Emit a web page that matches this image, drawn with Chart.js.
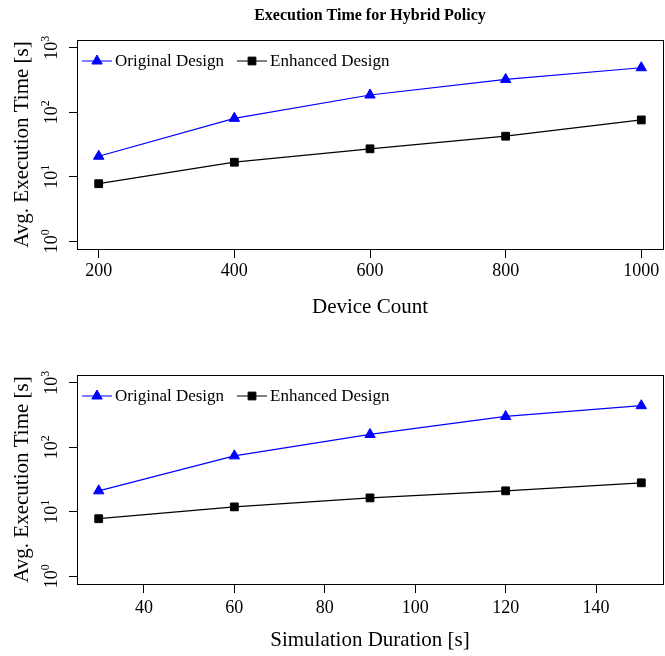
<!DOCTYPE html>
<html>
<head>
<meta charset="utf-8">
<script src="https://cdn.jsdelivr.net/npm/chart.js@4.4.0/dist/chart.umd.min.js"></script>
<style>
  html, body { margin: 0; padding: 0; background: #fff; }
  #wrap { position: relative; width: 665px; height: 656px; }
  canvas { position: absolute; left: 0; }
</style>
</head>
<body>
<div id="wrap">
  <canvas id="device-chart" width="665" height="328" style="top:0"></canvas>
  <canvas id="duration-chart" width="665" height="328" style="top:328px"></canvas>
</div>
<script>
const chartTitle = "Execution Time for Hybrid Policy";
const seriesNames = ["Original Design", "Enhanced Design"];
const yTitle = "Avg. Execution Time [s]";

const deviceCounts = [200, 400, 600, 800, 1000];
const deviceOriginal = [20.8, 80.5, 185, 323, 490];
const deviceEnhanced = [7.8, 16.8, 27.1, 42.5, 76];
const deviceTicks = [200, 400, 600, 800, 1000];

const durations = [30, 60, 90, 120, 150];
const durationOriginal = [21.1, 73.5, 158, 300, 441];
const durationEnhanced = [7.8, 11.9, 16.4, 21.1, 28.1];
const durationTicks = [40, 60, 80, 100, 120, 140];

const yTicks = [1, 10, 100, 1000];

const SERIF = "'Liberation Serif', 'DejaVu Serif', serif";

// draws frame, legend, titles and tick labels (R style)
const decorPlugin = {
  id: "decor",
  afterDraw(chart, args, opts) {
    const ctx = chart.ctx;
    const a = chart.chartArea;
    ctx.save();

    ctx.strokeStyle = "#000";
    ctx.lineWidth = 1;
    ctx.strokeRect(Math.round(a.left) + 0.5, Math.round(a.top) + 0.5,
      Math.round(a.right - a.left), Math.round(a.bottom - a.top));

    if (opts.title) {
      ctx.fillStyle = "#000";
      ctx.font = "bold 16px " + SERIF;
      ctx.textAlign = "center";
      ctx.textBaseline = "middle";
      ctx.fillText(opts.title, (a.left + a.right) / 2, 16);
    }

    // legend, inside the box
    const legendY = a.top + 21;
    const starts = [a.left + 5, a.left + 160];
    chart.data.datasets.forEach((ds, i) => {
      const x0 = starts[i];
      ctx.strokeStyle = ds.borderColor;
      ctx.fillStyle = ds.pointBackgroundColor;
      ctx.lineWidth = 1;
      ctx.beginPath();
      ctx.moveTo(x0, legendY);
      ctx.lineTo(x0 + 30, legendY);
      ctx.stroke();
      Chart.helpers.drawPoint(ctx, {
        pointStyle: ds.pointStyle, radius: ds.pointRadius, rotation: 0, borderWidth: 1
      }, x0 + 15, legendY);
      ctx.fillStyle = "#000";
      ctx.font = "17px " + SERIF;
      ctx.textAlign = "left";
      ctx.textBaseline = "middle";
      ctx.fillText(ds.label, x0 + 33, legendY + 1);
    });

    // x tick labels
    const xScale = chart.scales.x;
    ctx.fillStyle = "#000";
    ctx.font = "18px " + SERIF;
    ctx.textAlign = "center";
    ctx.textBaseline = "middle";
    opts.xTicks.forEach((v) => {
      ctx.fillText(String(v), xScale.getPixelForValue(v), a.bottom + opts.xLabelGap);
    });

    // y tick labels, rotated
    const yScale = chart.scales.y;
    yTicks.forEach((v) => {
      const py = yScale.getPixelForValue(v);
      const base = "10";
      const exp = String(Math.round(Math.log10(v)));
      ctx.font = "18px " + SERIF;
      const wb = ctx.measureText(base).width;
      ctx.font = "12px " + SERIF;
      const we = ctx.measureText(exp).width;
      ctx.save();
      ctx.translate(a.left - 20, py);
      ctx.rotate(-Math.PI / 2);
      ctx.textAlign = "left";
      ctx.textBaseline = "alphabetic";
      const sx = -(wb + we) / 2;
      ctx.font = "18px " + SERIF;
      ctx.fillText(base, sx, 0);
      ctx.font = "12px " + SERIF;
      ctx.fillText(exp, sx + wb, -8);
      ctx.restore();
    });

    // axis titles
    ctx.font = "21px " + SERIF;
    ctx.textAlign = "center";
    ctx.textBaseline = "middle";
    ctx.save();
    ctx.translate(22, (a.top + a.bottom) / 2);
    ctx.rotate(-Math.PI / 2);
    ctx.fillText(yTitle, 0, 0);
    ctx.restore();
    ctx.fillText(opts.xTitle, (a.left + a.right) / 2, a.bottom + opts.xTitleGap);

    ctx.restore();
  }
};

function makeChart(canvasId, xs, orig, enh, xTicks, xMin, xMax, cfg) {
  const ctx = document.getElementById(canvasId).getContext("2d");
  return new Chart(ctx, {
    type: "line",
    data: {
      datasets: [
        {
          label: seriesNames[0],
          data: xs.map((x, i) => ({ x, y: orig[i] })),
          borderColor: "#0000ff",
          backgroundColor: "#0000ff",
          pointBackgroundColor: "#0000ff",
          pointBorderColor: "#0000ff",
          pointStyle: "triangle",
          pointRadius: 6,
          pointBorderWidth: 1,
          borderWidth: 1.2,
          tension: 0
        },
        {
          label: seriesNames[1],
          data: xs.map((x, i) => ({ x, y: enh[i] })),
          borderColor: "#000000",
          backgroundColor: "#000000",
          pointBackgroundColor: "#000000",
          pointBorderColor: "#000000",
          pointStyle: "rect",
          pointRadius: 5.5,
          pointBorderWidth: 1,
          borderWidth: 1.2,
          tension: 0
        }
      ]
    },
    options: {
      responsive: false,
      animation: false,
      devicePixelRatio: 1,
      layout: { autoPadding: false, padding: { top: cfg.top, right: 2, left: 0, bottom: 0 } },
      plugins: {
        legend: { display: false },
        title: { display: false },
        tooltip: { enabled: false },
        decor: {
          title: cfg.title, xTitle: cfg.xTitle, xTitleGap: cfg.xTitleGap,
          xTicks: xTicks, xLabelGap: cfg.xLabelGap
        }
      },
      scales: {
        x: {
          type: "linear",
          min: xMin,
          max: xMax,
          afterBuildTicks: (scale) => { scale.ticks = xTicks.map((v) => ({ value: v })); },
          afterFit: (scale) => { scale.height = 328 - cfg.bottom; },
          border: { display: false },
          grid: { drawOnChartArea: false, drawTicks: true, tickLength: 9, color: "#000" },
          ticks: { display: false }
        },
        y: {
          type: "logarithmic",
          min: Math.pow(10, -0.12),
          max: Math.pow(10, 3.12),
          afterBuildTicks: (scale) => { scale.ticks = yTicks.map((v) => ({ value: v })); },
          afterFit: (scale) => { scale.width = 77; },
          border: { display: false },
          grid: { drawOnChartArea: false, drawTicks: true, tickLength: 8, color: "#000" },
          ticks: { display: false }
        }
      }
    },
    plugins: [decorPlugin]
  });
}

makeChart("device-chart", deviceCounts, deviceOriginal, deviceEnhanced, deviceTicks, 168, 1032,
  { top: 40, bottom: 249, title: chartTitle, xTitle: "Device Count", xTitleGap: 58, xLabelGap: 22 });
makeChart("duration-chart", durations, durationOriginal, durationEnhanced, durationTicks, 25.2, 154.8,
  { top: 47, bottom: 256, title: null, xTitle: "Simulation Duration [s]", xTitleGap: 56, xLabelGap: 24 });
</script>
</body>
</html>
